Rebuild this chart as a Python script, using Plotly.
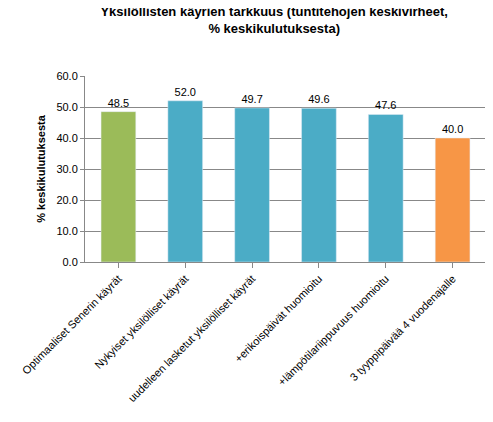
import plotly.graph_objects as go

categories = ["Optimaaliset Senerin käyrät", "Nykyiset yksilölliset käyrät",
              "uudelleen lasketut yksilölliset käyrät", "+erikoispäivät huomioitu",
              "+lämpötilariippuvuus huomioitu", "3 tyyppipäivää 4 vuodenajalle"]
values = [48.5, 52.0, 49.7, 49.6, 47.6, 40.0]
colors = ["#9BBB59", "#4BACC6", "#4BACC6", "#4BACC6", "#4BACC6", "#F79646"]

fig = go.Figure(go.Bar(
    x=categories, y=values, marker_color=colors, width=0.52,
    text=[f"{v:.1f}" for v in values], textposition="outside",
    textfont=dict(size=11, color="#000"), cliponaxis=False,
))
fig.update_layout(
    width=493, height=422, plot_bgcolor="white", paper_bgcolor="white",
    font=dict(family="Liberation Sans", size=11, color="#000"),
    margin=dict(l=70, r=15, t=68, b=168),
    title=dict(text="<b>Yksilöllisten käyrien tarkkuus (tuntitehojen keskivirheet,<br>% keskikulutuksesta)</b>",
               x=0.54, xanchor="center", y=0.98, yanchor="top", font=dict(size=13)),
    showlegend=False,
)
fig.update_yaxes(range=[0, 60], dtick=10, tickformat=".1f", showgrid=True,
                 gridcolor="#888", showline=True, linecolor="#888", ticks="outside",
                 tickcolor="#888", ticklen=4,
                 title=dict(text="<b>% keskikulutuksesta</b>", font=dict(size=11), standoff=8))
fig.update_xaxes(tickangle=-45, showline=True, linecolor="#888", ticks="outside",
                 tickcolor="#888", tickfont=dict(size=11))
fig.write_html("out.html")
